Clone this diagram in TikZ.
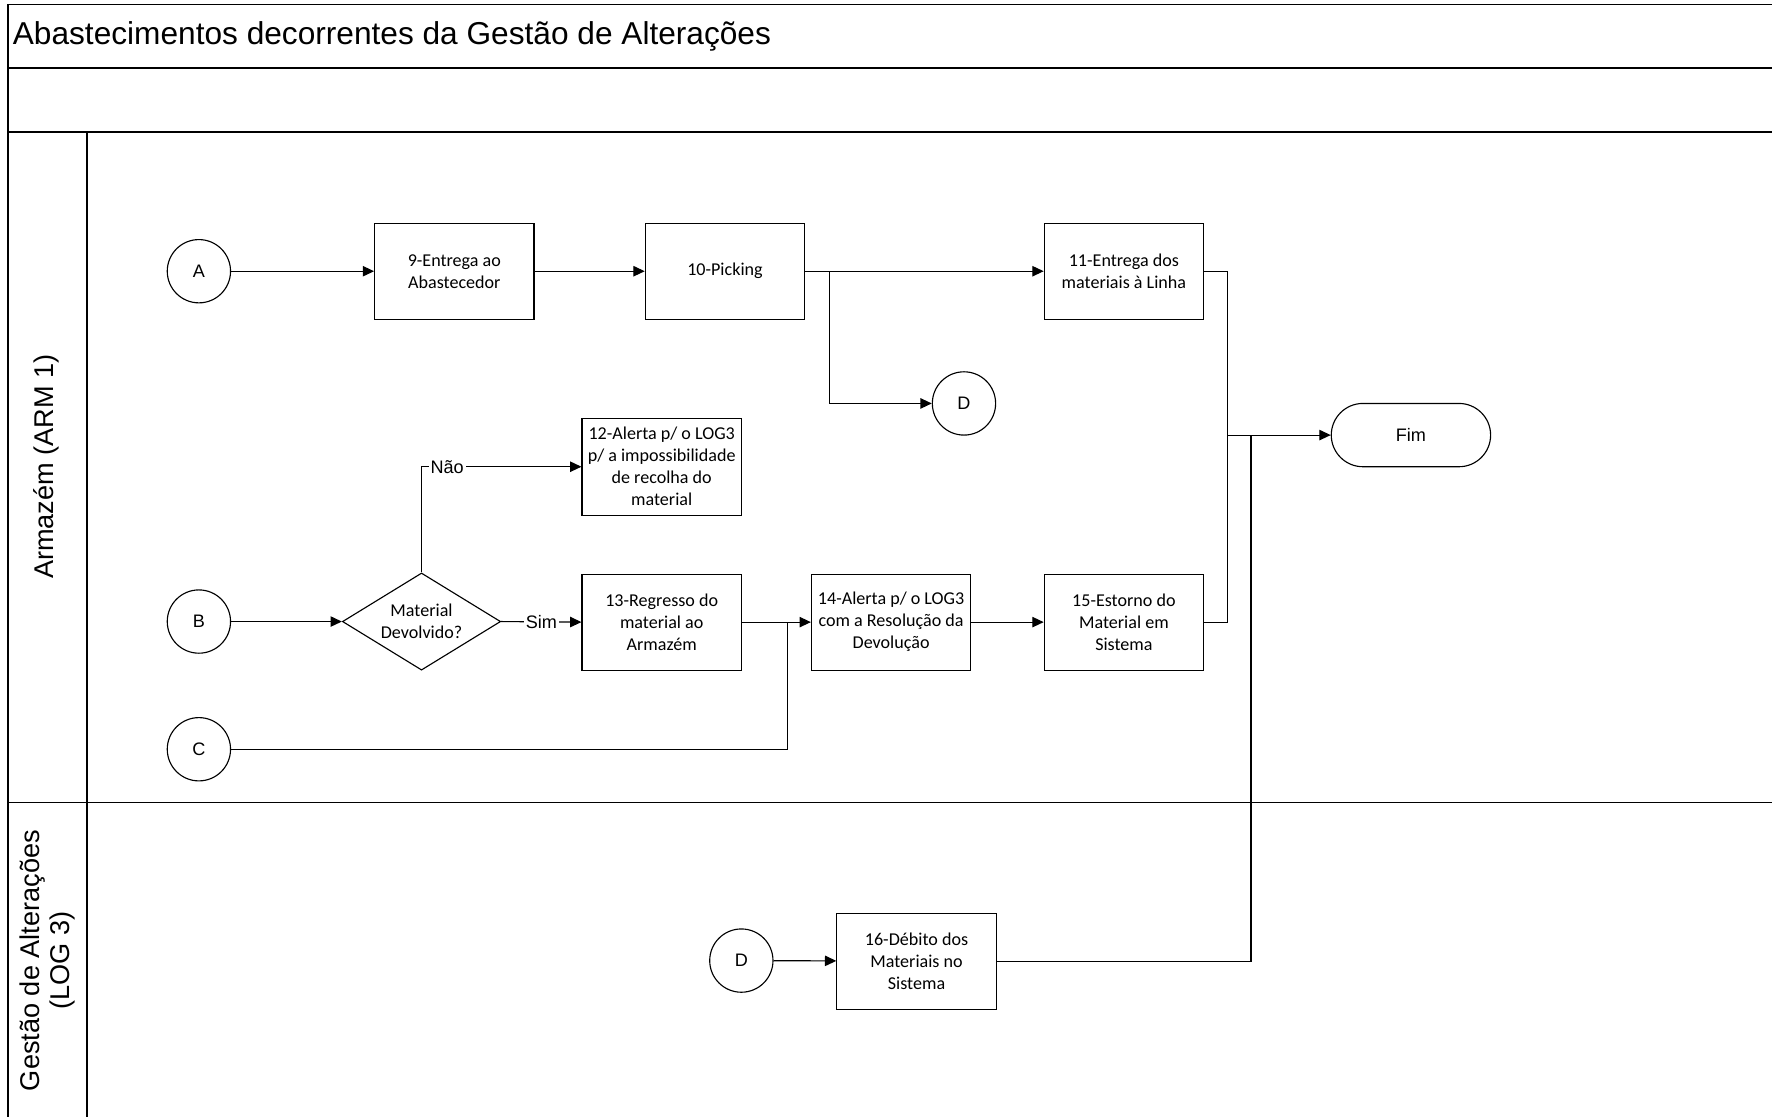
\documentclass[tikz,border=0pt]{standalone}
\usepackage{fontspec}
\setmainfont{Liberation Sans}
\newfontfamily\boxfont{Carlito}
\usetikzlibrary{arrows.meta,shapes.geometric}

\begin{document}
\begin{tikzpicture}[x=0.5pt,y=-0.5pt,
  lane/.style={line width=0.7pt},
  proc/.style={draw, line width=0.5pt, minimum width=70.5pt, minimum height=42.5pt,
    inner sep=1pt, align=center, font=\boxfont\fontsize{8}{9.75}\selectfont},
  conn/.style={draw, circle, line width=0.5pt, minimum size=28pt, inner sep=0pt,
    font=\fontsize{8}{9.6}\selectfont},
  decision/.style={draw, diamond, aspect=1.63, line width=0.5pt, inner sep=0pt,
    minimum width=70pt, minimum height=43pt, align=center,
    font=\boxfont\fontsize{8}{9.75}\selectfont},
  terminal/.style={draw, rounded corners=14pt, line width=0.5pt, minimum width=70.5pt,
    minimum height=28pt, font=\fontsize{8}{9.6}\selectfont},
  arr/.style={line width=0.5pt, -{Triangle[length=5pt,width=4.6pt]}},
  flow/.style={line width=0.5pt},
  lbl/.style={fill=white, inner sep=0.8pt, font=\fontsize{8}{9.6}\selectfont}
]
\useasboundingbox (0,0) rectangle (1568,988);

% pool frame and lanes
\draw[lane] (1568,4) -- (7,4) -- (7,988);
\draw[lane] (7,60) -- (1568,60);
\draw[lane] (7,117) -- (1568,117);
\draw[lane] (77,117) -- (77,988);
\draw[lane] (7,710) -- (1568,710);

\node[anchor=west, inner sep=0pt, font=\fontsize{14}{16.5}\selectfont] (title) at (11,32)
  {Abastecimentos decorrentes da Gestão de Alterações};
\node[rotate=90, font=\fontsize{12}{13.5}\selectfont] (laneA) at (41,413) {Armazém (ARM 1)};
\node[rotate=90, align=center, font=\fontsize{12}{13.5}\selectfont] (laneB) at (42,850)
  {Gestão de Alterações\\(LOG 3)};

% warehouse lane
\node[conn] (A) at (176,240) {A};
\node[proc] (b9) at (402,240) {9-Entrega ao\\Abastecedor};
\node[proc] (b10) at (641.5,240) {10-Picking};
\node[proc] (b11) at (994.5,240) {11-Entrega dos\\materiais à Linha};
\node[conn] (D1) at (853,357) {D};
\node[terminal] (fim) at (1248.5,385) {Fim};
\node[proc, minimum height=43pt] (b12) at (585.5,413)
  {12-Alerta p/ o LOG3\\p/ a impossibilidade\\de recolha do\\material};
\node[conn] (B) at (176,550) {B};
\node[decision] (dec) at (373,550) {Material\\Devolvido?};
\node[proc] (b13) at (585.5,550.5) {13-Regresso do\\material ao\\Armazém};
\node[proc] (b14) at (788.5,550.5) {14-Alerta p/ o LOG3\\com a Resolução da\\Devolução};
\node[proc] (b15) at (994.5,550.5) {15-Estorno do\\Material em\\Sistema};
\node[conn] (C) at (176,663) {C};

% change management lane
\node[conn] (D2) at (656,850) {D};
\node[proc] (b16) at (811,850.5) {16-Débito dos\\Materiais no\\Sistema};

% junction points
\coordinate (jPick) at (734,240);
\coordinate (jEnd) at (1086,385);
\coordinate (jDeb) at (1107,385);
\coordinate (jRet) at (697,550);

% connectors
\draw[arr] (A) -- (b9);
\draw[arr] (b9) -- (b10);
\draw[arr] (b10) -- (b11);
\draw[arr] (jPick) |- (D1);
\draw[flow] (b11.east) -| (jEnd);
\draw[flow] (b15.east) -| (jEnd);
\draw[flow] (b16.east) -| (jDeb);
\draw[arr] (jEnd) -- (fim.west);
\draw[arr] (B) -- (dec.west);
\draw[arr] (dec.north) |- node[lbl, pos=0.58] {Não} (b12.west);
\draw[arr] (dec.east) -- node[lbl] {Sim} (b13.west);
\draw[arr] (b13) -- (b14);
\draw[flow] (C) -| (jRet);
\draw[arr] (b14) -- (b15);
\draw[arr] (D2) -- (b16);
\end{tikzpicture}
\end{document}
